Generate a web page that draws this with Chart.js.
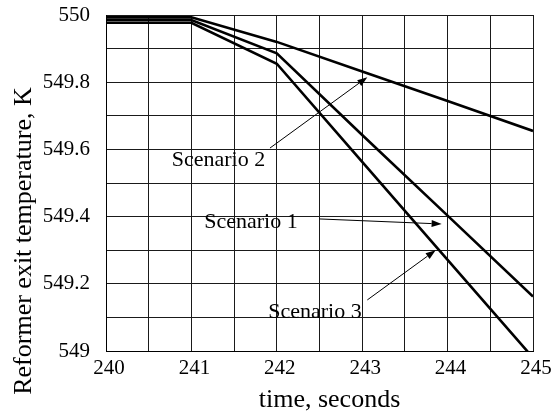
<!DOCTYPE html>
<html>
<head>
<meta charset="utf-8">
<script src="https://cdn.jsdelivr.net/npm/chart.js@4"></script>
<style>
  html, body { margin: 0; padding: 0; background: #fff; }
  canvas { display: block; }
</style>
</head>
<body>
<canvas id="chart" width="553" height="418"></canvas>
<script>
// Simulation time (s) and reformer exit temperature (K) for each scenario
const timeSeconds = [240, 241, 242, 243, 244, 245];
const scenario1 = [549.985, 549.985, 549.886, 549.643, 549.403, 549.162];
const scenario2 = [549.993, 549.993, 549.920, 549.832, 549.744, 549.655];
const scenario3 = [549.977, 549.977, 549.855, 549.563, 549.271, 548.980];

const seriesNames = ['Scenario 1', 'Scenario 2', 'Scenario 3'];
const xTickLabels = ['240', '241', '242', '243', '244', '245'];
const yTickLabels = ['549', '549.2', '549.4', '549.6', '549.8', '550'];

const serif = '"Liberation Serif", "Times New Roman", serif';

// Callout labels with leader arrows, in data coordinates
const callouts = [
  { text: seriesNames[1], tx: 240.77, ty: 549.55,  from: [241.92, 549.604], to: [243.06, 549.815] },
  { text: seriesNames[0], tx: 241.15, ty: 549.366, from: [242.50, 549.393], to: [243.93, 549.378] },
  { text: seriesNames[2], tx: 241.90, ty: 549.098, from: [243.06, 549.152], to: [243.86, 549.300] }
];

function toPoints(values) {
  return timeSeconds.map((t, i) => ({ x: t, y: values[i] }));
}

const calloutPlugin = {
  id: 'callouts',
  afterDatasetsDraw(chart) {
    const { ctx, scales: { x, y } } = chart;
    ctx.save();
    ctx.fillStyle = '#000';
    ctx.strokeStyle = '#000';
    ctx.font = '22px ' + serif;
    ctx.textBaseline = 'alphabetic';
    ctx.textAlign = 'left';
    callouts.forEach(c => {
      ctx.fillText(c.text, x.getPixelForValue(c.tx), y.getPixelForValue(c.ty));
      const x0 = x.getPixelForValue(c.from[0]), y0 = y.getPixelForValue(c.from[1]);
      const x1 = x.getPixelForValue(c.to[0]),   y1 = y.getPixelForValue(c.to[1]);
      const ang = Math.atan2(y1 - y0, x1 - x0);
      const len = 10, half = 3.5;
      const bx = x1 - len * Math.cos(ang), by = y1 - len * Math.sin(ang);
      ctx.lineWidth = 1;
      ctx.beginPath();
      ctx.moveTo(x0, y0);
      ctx.lineTo(bx, by);
      ctx.stroke();
      ctx.beginPath();
      ctx.moveTo(x1, y1);
      ctx.lineTo(bx + half * Math.sin(ang), by - half * Math.cos(ang));
      ctx.lineTo(bx - half * Math.sin(ang), by + half * Math.cos(ang));
      ctx.closePath();
      ctx.fill();
    });
    ctx.restore();
  }
};

// Axis titles
const axisTitlePlugin = {
  id: 'axisTitles',
  afterDraw(chart) {
    const { ctx, chartArea } = chart;
    ctx.save();
    ctx.fillStyle = '#000';
    ctx.font = '26px ' + serif;
    ctx.textAlign = 'center';
    ctx.textBaseline = 'alphabetic';
    ctx.fillText('time, seconds', (chartArea.left + chartArea.right) / 2 + 10, 407);
    ctx.translate(31, 241);
    ctx.rotate(-Math.PI / 2);
    ctx.fillText('Reformer exit temperature, K', 0, 0);
    ctx.restore();
  }
};

const lineStyle = {
  borderColor: '#000',
  backgroundColor: '#000',
  borderWidth: 2.6,
  pointRadius: 0,
  tension: 0,
  fill: false,
  clip: 0
};

new Chart(document.getElementById('chart'), {
  type: 'line',
  data: {
    datasets: [
      Object.assign({ label: seriesNames[0], data: toPoints(scenario1) }, lineStyle),
      Object.assign({ label: seriesNames[1], data: toPoints(scenario2) }, lineStyle),
      Object.assign({ label: seriesNames[2], data: toPoints(scenario3) }, lineStyle)
    ]
  },
  options: {
    responsive: false,
    animation: false,
    devicePixelRatio: 1,
    layout: { padding: { left: 0, right: 20, top: 15, bottom: 0 } },
    plugins: {
      legend: { display: false },
      tooltip: { enabled: false }
    },
    scales: {
      x: {
        type: 'linear',
        min: 240,
        max: 245,
        afterFit(scale) { scale.height = 67; scale.paddingLeft = 0; scale.paddingRight = 0; },
        grid: { color: '#1a1a1a', lineWidth: 1, drawTicks: false },
        border: { color: '#000', width: 1 },
        ticks: {
          stepSize: 0.5,
          autoSkip: false,
          maxRotation: 0,
          padding: 5,
          labelOffset: 3,
          color: '#000',
          font: { family: serif, size: 21 },
          callback(v) {
            const i = timeSeconds.indexOf(Math.round(v * 2) / 2);
            return Number.isInteger(Math.round(v * 2) / 2) && i >= 0 ? xTickLabels[i] : '';
          }
        }
      },
      y: {
        type: 'linear',
        min: 549,
        max: 550,
        afterFit(scale) { scale.width = 106; scale.paddingTop = 0; scale.paddingBottom = 0; },
        grid: { color: '#1a1a1a', lineWidth: 1, drawTicks: false },
        border: { color: '#000', width: 1 },
        ticks: {
          stepSize: 0.1,
          autoSkip: false,
          padding: 16,
          color: '#000',
          font: { family: serif, size: 21 },
          callback(v) {
            const k = Math.round((v - 549) * 10);
            return k % 2 === 0 ? yTickLabels[k / 2] : '';
          }
        }
      }
    }
  },
  plugins: [calloutPlugin, axisTitlePlugin]
});
</script>
</body>
</html>
